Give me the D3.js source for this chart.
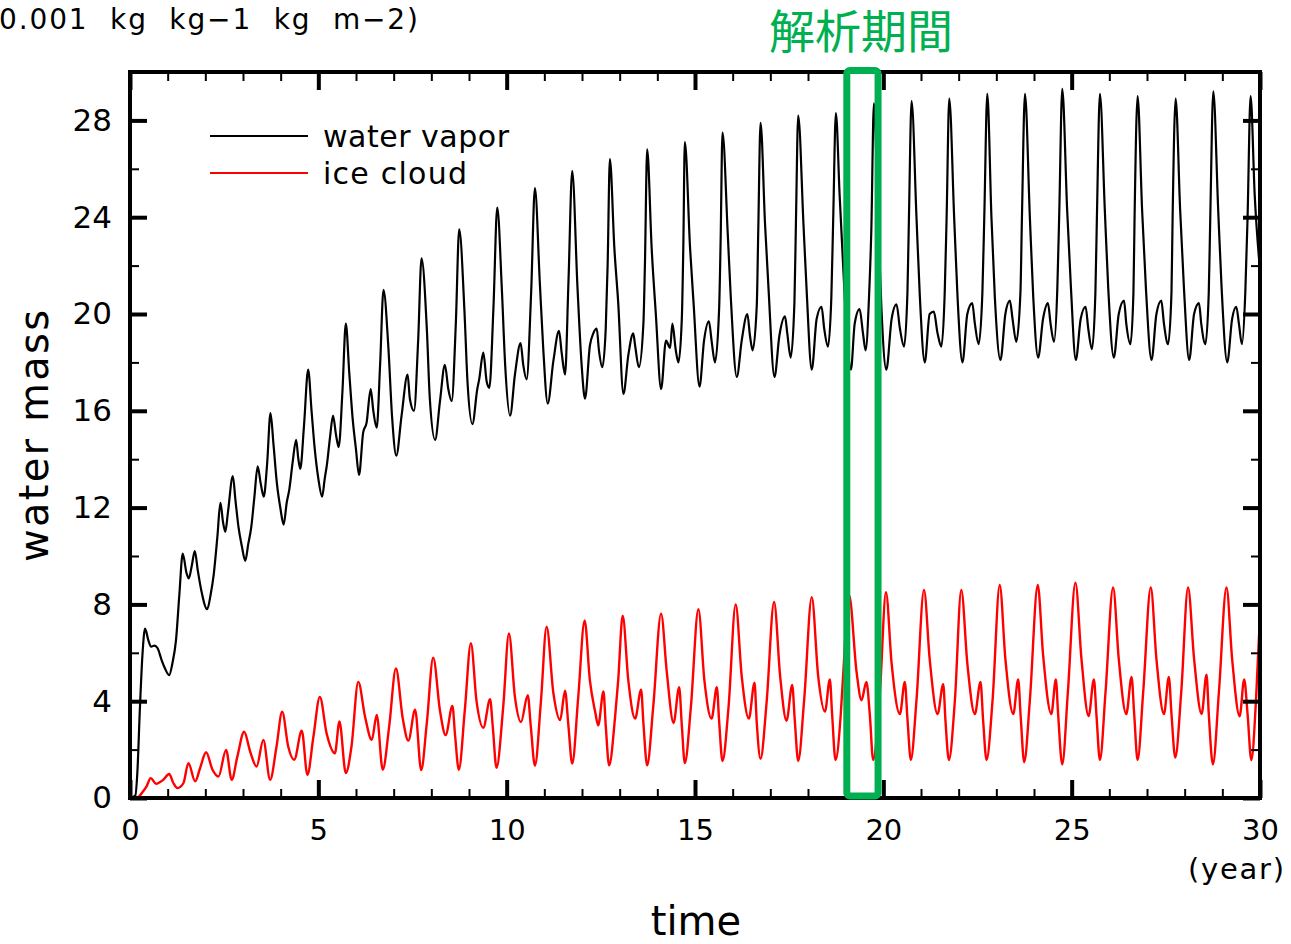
<!DOCTYPE html>
<html>
<head>
<meta charset="utf-8">
<script src="https://d3js.org/d3.v7.min.js"></script>
<style>
    body {
        margin: 0;
        background-color: white;
    }

    svg text {
        font-family: 'DejaVu Sans', sans-serif;
        fill: #000;
    }
</style>
</head>
<body>
<svg id="chart" width="1291" height="944"></svg>
<script>
    // [time (year), value]
    var vapor = [
        [0, 0], [0.14, 0.1], [0.2, 1.2], [0.26, 3.6], [0.33, 5.9], [0.4, 7.0], [0.49, 6.5], [0.56, 6.25], [0.65, 6.3], [0.73, 6.2],
        [0.84, 5.7], [0.93, 5.35], [1.04, 5.08], [1.13, 5.6], [1.22, 6.5], [1.31, 8.4], [1.4, 10.1], [1.5, 9.3], [1.56, 9.07], [1.64, 9.6],
        [1.72, 10.2], [1.8, 9.4], [1.89, 8.6], [2.05, 7.8], [2.14, 8.4], [2.22, 9.2], [2.32, 10.8], [2.4, 12.2], [2.47, 11.4], [2.53, 11.0],
        [2.6, 11.8], [2.73, 13.3], [2.8, 12.3], [2.88, 11.2], [2.97, 10.4], [3.06, 9.8], [3.14, 10.5], [3.22, 11.2], [3.3, 12.4], [3.39, 13.7],
        [3.47, 13.0], [3.55, 12.45], [3.64, 13.8], [3.73, 15.9], [3.81, 14.6], [3.9, 13.0], [3.99, 12.0], [4.08, 11.3], [4.16, 12.2], [4.23, 12.75],
        [4.32, 13.9], [4.41, 14.8], [4.47, 14.0], [4.52, 13.6], [4.62, 15.4], [4.73, 17.7], [4.82, 16.0], [4.9, 14.5], [5.0, 13.2], [5.1, 12.45],
        [5.17, 13.2], [5.23, 13.8], [5.31, 14.9], [5.39, 15.8], [5.47, 15.0], [5.54, 14.5], [5.64, 16.8], [5.73, 19.6], [5.82, 17.6], [5.91, 15.7],
        [6.0, 14.4], [6.08, 13.35], [6.19, 15.1], [6.28, 15.5], [6.39, 16.9], [6.46, 16.0], [6.55, 15.3], [6.64, 17.9], [6.73, 21.0], [6.86, 18.6],
        [6.96, 15.7], [7.07, 14.15], [7.21, 15.8], [7.37, 17.5], [7.43, 16.5], [7.54, 16.0], [7.65, 18.9], [7.74, 22.3], [7.88, 19.4], [7.96, 16.5],
        [8.1, 14.8], [8.23, 16.4], [8.36, 17.9], [8.45, 16.9], [8.54, 16.4], [8.65, 19.6], [8.74, 23.5], [8.88, 20.1], [8.96, 17.2], [9.09, 15.45],
        [9.22, 16.9], [9.27, 17.3], [9.38, 18.4], [9.47, 17.2], [9.54, 16.95], [9.65, 20.3], [9.75, 24.4], [9.87, 21.1], [9.96, 17.9], [10.09, 15.8],
        [10.22, 17.5], [10.37, 18.8], [10.44, 17.9], [10.53, 17.3], [10.65, 20.9], [10.75, 25.2], [10.88, 21.3], [10.97, 18.6], [11.09, 16.3], [11.24, 18.06],
        [11.39, 19.3], [11.46, 18.4], [11.55, 17.5], [11.64, 21.3], [11.74, 25.9], [11.88, 21.1], [11.99, 17.9], [12.08, 16.5], [12.21, 18.7], [12.3, 19.2],
        [12.39, 19.4], [12.45, 18.5], [12.54, 17.8], [12.63, 19.4], [12.68, 22.0], [12.74, 26.4], [12.86, 22.7], [12.96, 20.5], [13.1, 16.7], [13.23, 18.3],
        [13.36, 19.2], [13.41, 18.7], [13.51, 17.8], [13.63, 19.6], [13.67, 22.0], [13.73, 26.8], [13.85, 22.7], [13.96, 20.0], [14.1, 16.9], [14.23, 18.9],
        [14.34, 18.6], [14.4, 19.6], [14.49, 18.5], [14.56, 18.0], [14.65, 19.8], [14.69, 22.8], [14.73, 27.1], [14.87, 22.7], [14.96, 20.5], [15.12, 17.0],
        [15.24, 18.9], [15.37, 19.7], [15.44, 18.9], [15.53, 18.0], [15.64, 20.2], [15.68, 23.0], [15.73, 27.5], [15.87, 23.3], [15.95, 20.7], [16.11, 17.4],
        [16.24, 18.9], [16.39, 20.0], [16.46, 19.1], [16.53, 18.5], [16.64, 20.35], [16.68, 23.5], [16.74, 27.9], [16.86, 23.7], [16.95, 21.1], [17.11, 17.4],
        [17.24, 19.1], [17.39, 19.9], [17.45, 19.2], [17.54, 18.2], [17.64, 20.5], [17.68, 23.8], [17.74, 28.2], [17.88, 23.7], [17.96, 21.1], [18.1, 17.7],
        [18.23, 19.8], [18.36, 20.3], [18.43, 19.4], [18.53, 18.65], [18.62, 20.7], [18.67, 24.0], [18.74, 28.3], [18.84, 24.9], [18.93, 22.1], [19.02, 19.5],
        [19.14, 17.7], [19.24, 19.6], [19.37, 20.2], [19.46, 19.2], [19.53, 18.5], [19.62, 20.7], [19.68, 23.4], [19.75, 28.7], [19.86, 24.0], [19.95, 20.2],
        [20.08, 17.7], [20.22, 19.8], [20.35, 20.4], [20.44, 19.4], [20.55, 18.65], [20.64, 20.9], [20.68, 24.0], [20.75, 28.8], [20.88, 24.0], [20.97, 20.7],
        [21.1, 18.0], [21.23, 20.0], [21.34, 20.1], [21.44, 19.2], [21.54, 18.65], [21.63, 20.9], [21.68, 24.0], [21.75, 28.9], [21.88, 24.0], [21.97, 20.7],
        [22.1, 18.0], [22.23, 20.0], [22.36, 20.45], [22.43, 19.6], [22.53, 18.75], [22.63, 20.9], [22.68, 24.0], [22.76, 29.1], [22.87, 24.0], [22.96, 20.7],
        [23.11, 18.1], [23.24, 20.0], [23.36, 20.55], [23.43, 19.8], [23.53, 18.85], [23.64, 20.9], [23.68, 24.0], [23.76, 29.1], [23.89, 24.0], [23.98, 20.7],
        [24.11, 18.2], [24.24, 19.8], [24.37, 20.45], [24.44, 19.6], [24.53, 18.85], [24.62, 21.1], [24.67, 24.15], [24.75, 29.3], [24.88, 24.3], [24.98, 21.1],
        [25.11, 18.1], [25.24, 19.8], [25.37, 20.3], [25.44, 19.4], [25.54, 18.55], [25.63, 20.9], [25.67, 24.0], [25.75, 29.1], [25.88, 24.3], [25.97, 21.1],
        [26.12, 18.2], [26.25, 20.0], [26.39, 20.55], [26.45, 19.6], [26.56, 18.75], [26.64, 20.9], [26.67, 24.0], [26.75, 29.0], [26.87, 24.3], [26.97, 21.1],
        [27.12, 18.1], [27.25, 20.0], [27.38, 20.55], [27.45, 19.6], [27.56, 18.75], [27.65, 20.9], [27.68, 24.0], [27.76, 28.9], [27.88, 24.3], [27.98, 21.1],
        [28.12, 18.1], [28.25, 20.0], [28.38, 20.45], [28.44, 19.6], [28.55, 18.75], [28.64, 20.9], [28.68, 24.0], [28.76, 29.2], [28.89, 24.3], [28.98, 21.1],
        [29.13, 18.0], [29.26, 19.8], [29.37, 20.3], [29.44, 19.6], [29.52, 18.75], [29.61, 20.9], [29.67, 24.0], [29.75, 29.0], [29.86, 24.9], [30.0, 21.8]
    ];

    var ice = [
        [0, 0], [0.22, 0.04], [0.31, 0.2], [0.44, 0.48], [0.55, 0.82], [0.69, 0.59], [0.88, 0.75], [1.04, 0.99], [1.15, 0.62], [1.26, 0.41],
        [1.42, 0.62], [1.55, 1.44], [1.73, 0.69], [1.86, 1.23], [2.02, 1.89], [2.19, 1.17], [2.35, 0.89], [2.55, 1.99], [2.7, 0.75], [2.85, 1.71],
        [3.03, 2.74], [3.19, 1.92], [3.36, 1.3], [3.54, 2.4], [3.72, 0.75], [3.89, 2.13], [4.04, 3.57], [4.2, 2.13], [4.36, 1.58], [4.56, 2.78],
        [4.71, 0.96], [4.87, 2.54], [5.04, 4.18], [5.22, 2.67], [5.44, 1.85], [5.56, 3.16], [5.73, 1.03], [5.88, 2.13], [6.06, 4.8], [6.24, 3.36],
        [6.42, 2.4], [6.55, 3.43], [6.71, 1.17], [6.88, 2.95], [7.06, 5.35], [7.24, 3.3], [7.39, 2.37], [7.57, 3.65], [7.73, 1.15], [7.88, 3.1],
        [8.05, 5.8], [8.23, 3.6], [8.38, 2.6], [8.56, 3.8], [8.63, 2.6], [8.73, 1.17], [8.89, 3.65], [9.05, 6.4], [9.2, 4.0], [9.38, 2.9],
        [9.56, 4.08], [9.63, 2.97], [9.73, 1.25], [9.91, 3.8], [10.06, 6.8], [10.22, 4.17], [10.38, 3.14], [10.56, 4.25], [10.64, 2.97], [10.75, 1.34],
        [10.91, 4.0], [11.06, 7.08], [11.24, 4.34], [11.42, 3.22], [11.55, 4.43], [11.64, 2.97], [11.74, 1.42], [11.9, 4.17], [12.07, 7.34], [12.21, 4.85],
        [12.35, 3.56], [12.43, 3.0], [12.57, 4.4], [12.63, 3.0], [12.72, 1.35], [12.88, 3.38], [12.96, 4.85], [13.08, 7.53], [13.23, 4.85], [13.41, 3.28],
        [13.57, 4.48], [13.63, 3.1], [13.73, 1.35], [13.89, 3.75], [14.1, 7.62], [14.25, 5.22], [14.43, 3.1], [14.58, 4.58], [14.65, 3.0], [14.73, 1.44],
        [14.89, 3.75], [15.09, 7.8], [15.25, 4.85], [15.44, 3.28], [15.58, 4.58], [15.64, 3.19], [15.73, 1.53], [15.89, 3.75], [16.08, 8.0], [16.24, 5.04],
        [16.43, 3.28], [16.58, 4.76], [16.64, 3.1], [16.74, 1.62], [16.9, 3.93], [17.1, 8.1], [17.26, 5.04], [17.43, 3.19], [17.58, 4.67], [17.65, 3.19],
        [17.74, 1.53], [17.9, 4.1], [18.1, 8.3], [18.27, 5.04], [18.45, 3.57], [18.58, 4.9], [18.64, 3.47], [18.73, 1.57], [18.87, 3.47], [18.93, 5.0],
        [19.09, 8.4], [19.29, 5.2], [19.42, 4.04], [19.55, 4.8], [19.64, 3.47], [19.73, 1.57], [19.91, 4.4], [20.07, 8.5], [20.22, 5.56], [20.44, 3.47],
        [20.57, 4.8], [20.64, 3.28], [20.73, 1.57], [20.88, 4.04], [21.08, 8.6], [21.23, 5.75], [21.44, 3.47], [21.59, 4.7], [21.65, 3.19], [21.74, 1.57],
        [21.9, 4.04], [22.07, 8.6], [22.23, 5.56], [22.43, 3.47], [22.58, 4.8], [22.65, 3.19], [22.74, 1.57], [22.9, 4.04], [23.09, 8.8], [23.24, 5.75],
        [23.45, 3.47], [23.58, 4.9], [23.65, 3.28], [23.74, 1.48], [23.89, 4.04], [24.1, 8.8], [24.24, 5.94], [24.46, 3.47], [24.58, 4.9], [24.64, 3.47],
        [24.75, 1.39], [24.9, 4.4], [25.1, 8.9], [25.26, 5.75], [25.45, 3.38], [25.59, 4.9], [25.66, 3.38], [25.75, 1.57], [25.9, 4.4], [26.1, 8.7],
        [26.25, 5.75], [26.45, 3.47], [26.59, 5.0], [26.66, 3.47], [26.75, 1.57], [26.9, 4.4], [27.1, 8.7], [27.25, 5.75], [27.45, 3.47], [27.58, 5.0],
        [27.65, 3.47], [27.75, 1.67], [27.91, 4.4], [28.09, 8.7], [28.25, 5.75], [28.45, 3.47], [28.58, 5.1], [28.64, 3.47], [28.75, 1.39], [28.91, 4.4],
        [29.11, 8.7], [29.26, 5.75], [29.46, 3.38], [29.58, 4.9], [29.67, 3.47], [29.77, 1.57], [29.9, 4.23], [30.0, 7.55]
    ];

    var xMajor = [0, 5, 10, 15, 20, 25, 30];
    var xMinor = [1, 2, 3, 4, 6, 7, 8, 9, 11, 12, 13, 14, 16, 17, 18, 19, 21, 22, 23, 24, 26, 27, 28, 29];
    var yMajor = [0, 4, 8, 12, 16, 20, 24, 28];
    var yMinor = [2, 6, 10, 14, 18, 22, 26];

    var legendItems = [
        { name: 'water vapor', color: '#000000' },
        { name: 'ice cloud', color: '#ff0000' }
    ];

    // analysis period box (years)
    var period = [19.03, 19.86];

    var plotL = 130, plotR = 1260, plotT = 72, plotB = 798;
    var svg = d3.select('#chart');

    var x = d3.scaleLinear().domain([0, 30]).range([plotL, plotR]);
    var y = d3.scaleLinear().domain([0, 30]).range([plotB, plotT]);

    var line = d3.line()
        .curve(d3.curveMonotoneX)
        .x(function (d) { return x(d[0]); })
        .y(function (d) { return y(d[1]); });

    svg.append('path').datum(ice)
        .attr('d', line)
        .attr('fill', 'none')
        .attr('stroke', '#ff0000')
        .attr('stroke-width', 2.4)
        .attr('stroke-linejoin', 'round');

    svg.append('path').datum(vapor)
        .attr('d', line)
        .attr('fill', 'none')
        .attr('stroke', '#000')
        .attr('stroke-width', 2.2)
        .attr('stroke-linejoin', 'round');

    // inward ticks on all four sides
    function tickRow(axis, tx, ty, vals, size, width) {
        var g = svg.append('g')
            .attr('transform', 'translate(' + tx + ',' + ty + ')')
            .call(axis.tickValues(vals).tickSize(size).tickFormat(''));
        g.select('.domain').remove();
        g.selectAll('line').attr('stroke-width', width);
        return g;
    }

    tickRow(d3.axisBottom(x), 0, plotB, xMinor, -9, 2);
    tickRow(d3.axisTop(x), 0, plotT, xMinor, -9, 2);
    tickRow(d3.axisTop(x), 0, plotT, xMajor, -18, 4);
    tickRow(d3.axisLeft(y), plotL, 0, yMinor, -9, 2);
    tickRow(d3.axisRight(y), plotR, 0, yMinor, -9, 2);
    tickRow(d3.axisRight(y), plotR, 0, yMajor, -17, 4);

    var xAxis = svg.append('g')
        .attr('transform', 'translate(0,' + plotB + ')')
        .call(d3.axisBottom(x).tickValues(xMajor).tickSize(-18).tickPadding(21));
    xAxis.select('.domain').remove();
    xAxis.selectAll('line').attr('stroke-width', 4);
    xAxis.selectAll('text').attr('font-size', 29).style('font-family', "'DejaVu Sans', sans-serif");

    var yAxis = svg.append('g')
        .attr('transform', 'translate(' + plotL + ',0)')
        .call(d3.axisLeft(y).tickValues(yMajor).tickSize(-17).tickPadding(18));
    yAxis.select('.domain').remove();
    yAxis.selectAll('line').attr('stroke-width', 4);
    yAxis.selectAll('text').attr('font-size', 31).style('font-family', "'DejaVu Sans', sans-serif");

    // frame
    svg.append('rect')
        .attr('x', plotL).attr('y', plotT)
        .attr('width', plotR - plotL).attr('height', plotB - plotT)
        .attr('fill', 'none')
        .attr('stroke', '#000')
        .attr('stroke-width', 4);

    // legend
    var legend = svg.append('g');
    legendItems.forEach(function (d, i) {
        var ly = 136 + i * 37;
        legend.append('line')
            .attr('x1', 210).attr('x2', 308)
            .attr('y1', ly).attr('y2', ly)
            .attr('stroke', d.color)
            .attr('stroke-width', 2);
        legend.append('text')
            .attr('x', 323).attr('y', ly + 11)
            .attr('font-size', 30)
            .attr('textLength', i == 0 ? 186 : 144)
            .attr('lengthAdjust', 'spacing')
            .text(d.name);
    });

    // titles
    svg.append('text')
        .attr('x', -1).attr('y', 29)
        .attr('font-size', 28)
        .attr('textLength', 419)
        .attr('lengthAdjust', 'spacing')
        .style('white-space', 'pre')
        .text('0.001  kg  kg\u22121  kg  m\u22122)');

    svg.append('text')
        .attr('transform', 'translate(48,436) rotate(-90)')
        .attr('text-anchor', 'middle')
        .attr('font-size', 40)
        .attr('textLength', 252)
        .attr('lengthAdjust', 'spacing')
        .text('water mass');

    svg.append('text')
        .attr('x', 696).attr('y', 935)
        .attr('text-anchor', 'middle')
        .attr('font-size', 40)
        .text('time');

    svg.append('text')
        .attr('x', 1188).attr('y', 879)
        .attr('font-size', 29)
        .attr('textLength', 96)
        .attr('lengthAdjust', 'spacing')
        .text('(year)');

    // analysis period
    svg.append('rect')
        .attr('x', x(period[0])).attr('y', plotT - 1.5)
        .attr('width', x(period[1]) - x(period[0]))
        .attr('height', plotB - plotT - 0.5)
        .attr('rx', 3)
        .attr('fill', 'none')
        .attr('stroke', '#00b050')
        .attr('stroke-width', 7);

    svg.append('text')
        .attr('x', 861).attr('y', 48)
        .attr('text-anchor', 'middle')
        .attr('font-size', 46)
        .style('font-family', "'Noto Sans CJK JP', sans-serif")
        .style('fill', '#00b050')
        .text('解析期間');
</script>
</body>
</html>
